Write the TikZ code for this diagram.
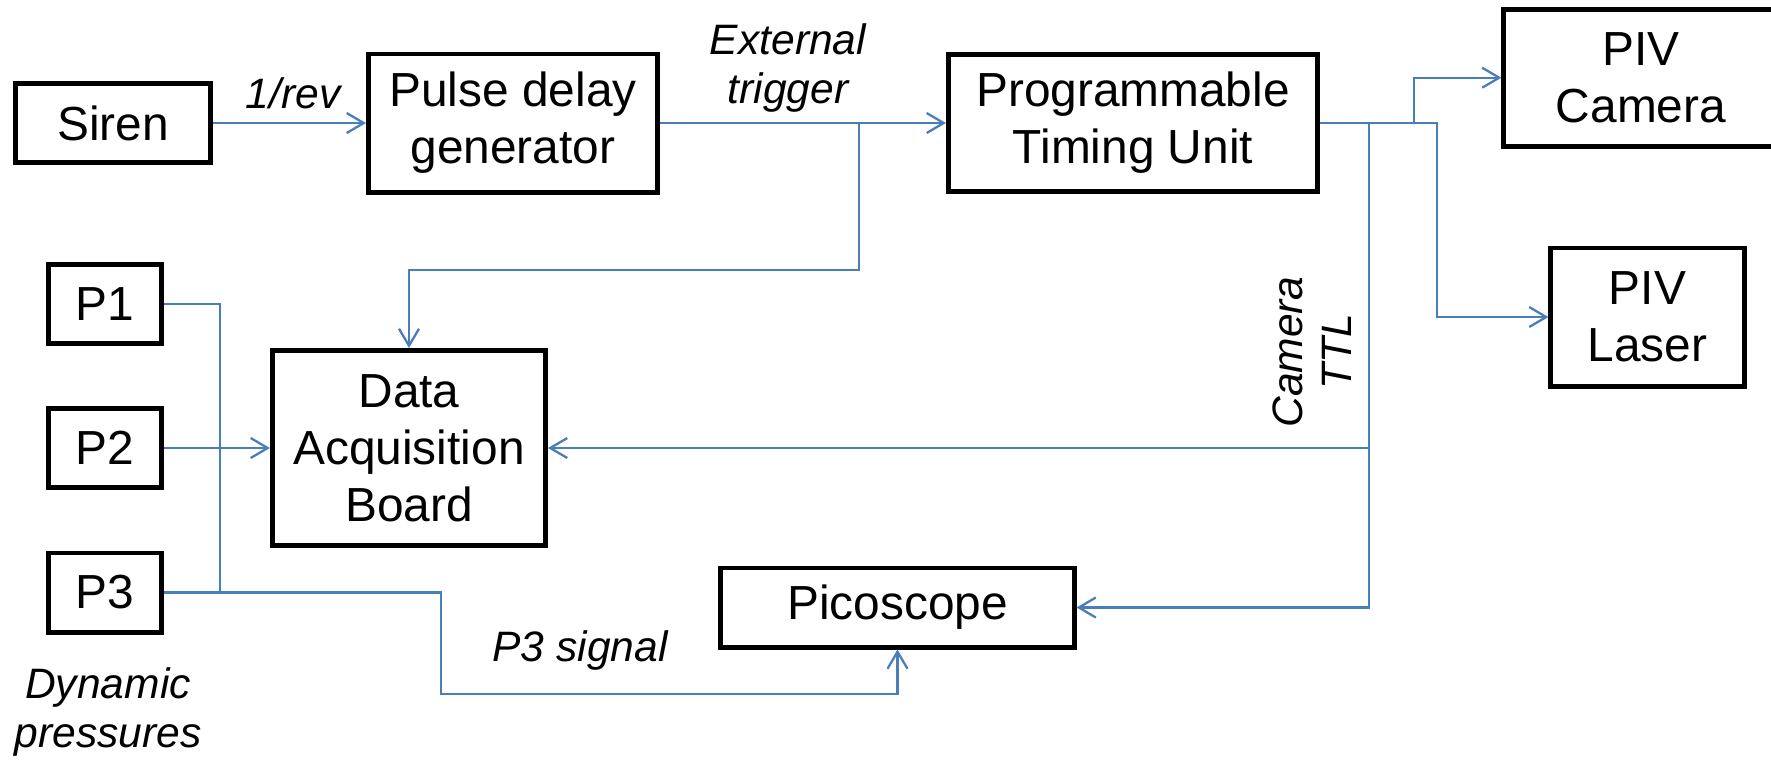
\documentclass[tikz,border=0pt]{standalone}
\usepackage{fontspec}
\setmainfont{Liberation Sans}
\usetikzlibrary{arrows.meta}
\definecolor{wireblue}{HTML}{4A7EBB}

\begin{document}
\begin{tikzpicture}[x=0.01cm,y=-0.01cm,
  box/.style={draw,line width=1.4pt,inner sep=0pt,align=center,
    font=\fontsize{13.6}{16.2}\selectfont},
  lbl/.style={align=center,font=\fontsize{12.1}{14}\selectfont\itshape},
  wire/.style={wireblue,line width=0.65pt},
  sig/.style={wire,-{Straight Barb[length=1.7mm,width=2mm]}}]
  \useasboundingbox (0,0) rectangle (1771,759);

  \node[box,minimum width=1.94cm,minimum height=0.79cm] (siren) at (113,123) {Siren};
  \node[box,minimum width=2.89cm,minimum height=1.38cm] (pulse) at (513,123) {Pulse delay\\generator};
  \node[box,minimum width=3.69cm,minimum height=1.37cm] (ptu) at (1133,123) {Programmable\\Timing Unit};
  \node[box,minimum width=2.74cm,minimum height=1.37cm] (cam) at (1641,77.7) {PIV\\Camera};
  \node[box,minimum width=1.93cm,minimum height=1.38cm] (laser) at (1647.5,317) {PIV\\Laser};
  \node[box,minimum width=1.125cm,minimum height=0.79cm] (p1) at (105,304) {P1};
  \node[box,minimum width=1.125cm,minimum height=0.79cm] (p2) at (105,448) {P2};
  \node[box,minimum width=1.125cm,minimum height=0.79cm] (p3) at (105,592.5) {P3};
  \node[box,minimum width=2.73cm,minimum height=1.95cm] (daq) at (409,448) {Data\\Acquisition\\Board};
  \node[box,minimum width=3.53cm,minimum height=0.79cm] (pico) at (897.5,607.5) {Picoscope};

  \node[lbl] (rev) at (293,93) {1/rev};
  \node[lbl] (ext) at (788,68) {External\\trigger};
  \node[lbl,rotate=90] (ttl) at (1312,352) {Camera\\TTL};
  \node[lbl] (p3sig) at (580,650) {P3 signal};
  \node[lbl] (dyn) at (108,712) {Dynamic\\pressures};

  \draw[sig] (siren.east) -- (siren.east -| pulse.west);
  \draw[sig] (pulse.east) -- (pulse.east -| ptu.west);
  \coordinate (trig) at (859,123);
  \draw[sig] (trig) -- ++(0,147) -| (daq.north);

  \draw[sig] (ptu.east) -- ++(94,0) |- (cam.west);
  \draw[sig] (ptu.east) -- ++(117,0) |- (laser.west);
  \draw[sig] (ptu.east) -- ++(49,0) |- (daq.east);
  \draw[sig] (ptu.east) -- ++(49,0) |- (pico.east);

  \draw[wire] (p1.east) -- ++(56,0) |- (p3.east);
  \draw[sig] (p2.east) -- (daq.west);
  \draw[sig] (p3.east) -| (441,694) -| (pico.south);
\end{tikzpicture}
\end{document}
